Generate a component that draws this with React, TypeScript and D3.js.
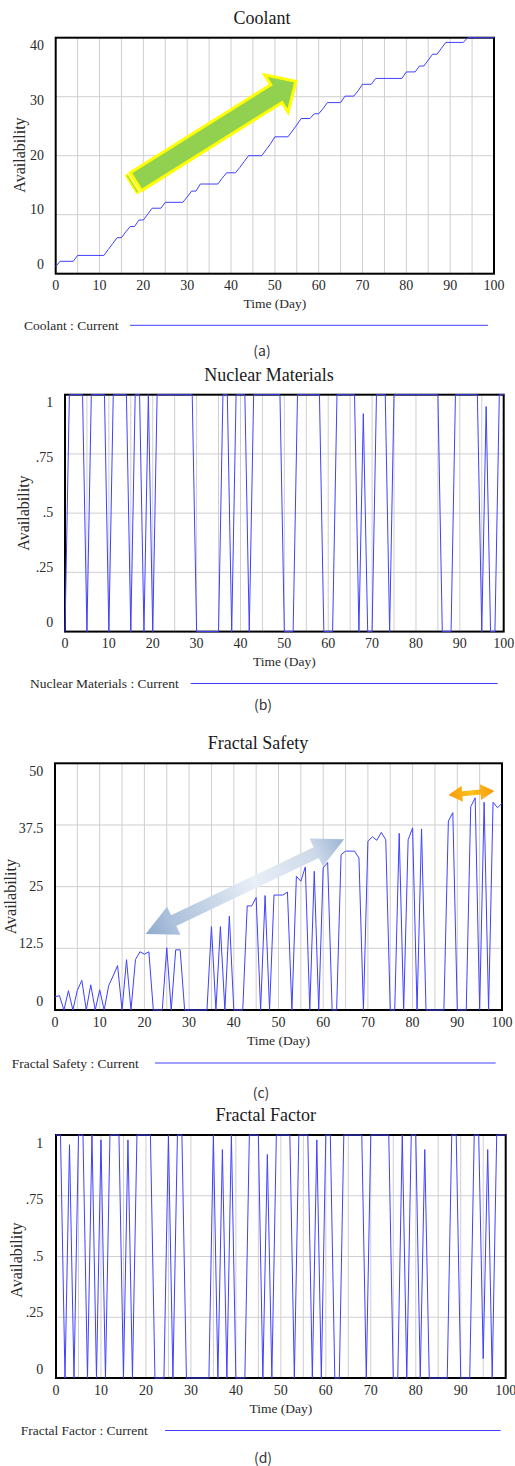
import React from 'react';
import * as d3 from 'd3';

// ---- data ----
const coolantDays = [0, 1, 4, 5, 11, 12, 13, 14, 15, 16, 17, 18, 19, 20, 21, 22, 24, 25, 29, 30, 31, 32, 33, 37, 38, 39, 41, 42, 43, 44, 47, 48, 49, 50, 53, 54, 55, 56, 58, 59, 60, 61, 62, 65, 66, 68, 69, 70, 72, 73, 79, 80, 82, 83, 84, 85, 86, 87, 88, 89, 93, 94, 100];
const coolantValues = [1.2, 2.1, 2.1, 3.1, 3.1, 4.1, 5.1, 6.1, 6.1, 7.1, 8, 8, 9.1, 9.1, 10.1, 11.1, 11.1, 12.1, 12.1, 13, 14, 14, 15.2, 15.2, 16.2, 17.1, 17.1, 18, 19, 20, 20, 21, 22, 23.2, 23.2, 24.2, 25.2, 26.3, 26.3, 27.1, 27.1, 28, 29, 29, 30.1, 30.1, 31, 32.1, 32.1, 33.1, 33.1, 34.2, 34.2, 35.2, 35.2, 36.2, 37.2, 37.2, 38.2, 39.2, 39.2, 40, 40];

const nuclearDays = [0, 1, 4, 5, 6, 9, 10, 11, 14, 15, 16, 17, 18, 19, 20, 21, 29, 30, 35, 36, 37, 38, 39, 41, 42, 43, 49, 50, 52, 53, 58, 59, 61, 62, 66, 67, 68, 69, 70, 71, 73, 74, 75, 85, 86, 88, 89, 94, 95, 96, 97, 98, 99, 100];
const nuclearValues = [0, 1, 1, 0, 1, 1, 0, 1, 1, 0, 1, 1, 0, 1, 0, 1, 1, 0, 0, 1, 1, 0, 1, 1, 0, 1, 1, 0, 0, 1, 1, 0, 0, 1, 1, 0, 0.92, 0, 0, 1, 1, 0, 1, 1, 0, 0, 1, 1, 0, 0.95, 0, 0, 1, 1];

const safetyDays = [0, 1, 2, 3, 4, 5, 6, 7, 8, 9, 10, 11, 12, 13, 14, 15, 16, 17, 18, 19, 20, 21, 22, 24, 25, 26, 27, 28, 29, 34, 35, 36, 37, 38, 39, 40, 42, 43, 44, 45, 46, 47, 48, 49, 50, 51, 52, 53, 54, 55, 56, 57, 58, 59, 60, 61, 62, 63, 64, 65, 66, 67, 68, 69, 70, 71, 72, 73, 74, 75, 76, 77, 78, 79, 80, 81, 82, 83, 87, 88, 89, 90, 92, 93, 94, 95, 96, 97, 98, 99, 100];
const safetyValues = [2.7, 2.9, 0, 3.9, 0, 4, 6, 0, 5.1, 0, 4.1, 0, 4.9, 6.9, 9, 0, 10.2, 0, 10.2, 11.8, 11.3, 11.8, 0, 0, 12.6, 0, 12.2, 12.2, 0, 0, 16.9, 0, 16.9, 0, 19, 0, 0, 21.1, 21.1, 22.8, 0, 23.2, 0, 23.3, 23.3, 23.3, 23.9, 0, 27.1, 26.1, 29, 0, 28.1, 0, 28.8, 29.9, 0, 0, 31.5, 32.2, 32.2, 32.2, 30.8, 0, 34.2, 35.1, 34.4, 36, 34.5, 0, 0, 35.8, 0, 34.5, 36.9, 0, 36.7, 0, 0, 38.3, 40, 0, 0, 41.2, 43, 0, 42.1, 0, 42.1, 41, 41.9];

const factorDays = [0, 1, 2, 3, 4, 5, 6, 7, 8, 9, 10, 11, 12, 14, 15, 16, 17, 18, 21, 22, 24, 25, 26, 27, 28, 29, 34, 35, 36, 37, 38, 39, 40, 42, 43, 45, 46, 47, 48, 49, 52, 53, 54, 56, 57, 58, 59, 60, 61, 62, 63, 64, 68, 69, 70, 74, 75, 76, 77, 78, 79, 80, 81, 82, 83, 87, 88, 89, 90, 92, 93, 94, 95, 96, 97, 98, 100];
const factorValues = [1, 1, 0, 0.96, 0, 1, 1, 0, 1, 0, 0.98, 0, 1, 1, 0, 0.98, 0, 1, 1, 0, 0, 1, 0, 1, 1, 0, 0, 1, 0, 0.94, 0, 1, 0, 0, 1, 1, 0, 0.92, 0, 1, 1, 0, 1, 1, 0, 0.98, 0, 1, 1, 0, 0, 1, 1, 0, 1, 1, 0, 0, 1, 0, 1, 1, 0, 0.94, 0, 0, 1, 1, 0, 0, 1, 1, 0.08, 0.94, 0, 1, 1];

const xTicks = [0, 10, 20, 30, 40, 50, 60, 70, 80, 90, 100];
const xGrid = d3.range(5, 100, 5);
const coolantTicks = [0, 10, 20, 30, 40];
const coolantTickLabels = ['0', '10', '20', '30', '40'];
const unitTicks = [0, 0.25, 0.5, 0.75, 1];
const unitTickLabels = ['0', '.25', '.5', '.75', '1'];
const safetyTicks = [0, 12.5, 25, 37.5, 50];
const safetyTickLabels = ['0', '12.5', '25', '37.5', '50'];

const serif = '"Liberation Serif", "Times New Roman", serif';
const sans = '"Noto Sans CJK KR", "Noto Sans", sans-serif';
const lineColor = '#4040ff';

type Arrow = {
  from: [number, number]; // data coords
  to: [number, number];
  shaft: number;
  headW: number;
  headL: number;
  both: boolean;
  stops: [number, string][];
  stroke?: string;
  strokeW?: number;
  stripe?: boolean;
};

type Panel = {
  id: string;
  title: string;
  titleX: number; titleY: number;
  left: number; right: number; top: number; bottom: number;
  yMax: number;
  yTicks: number[]; yTickLabels: string[];
  yLabelX: number;
  yTitleX: number; yTitleY: number;
  legend: string; legendX: number; legendLine: [number, number]; legendY: number;
  caption: string; captionX: number; captionY: number;
  days: number[]; values: number[];
  arrows: Arrow[];
};

const panels: Panel[] = [
  {
    id: 'a', title: 'Coolant', titleX: 262, titleY: 18,
    left: 55.7, right: 494, top: 37.7, bottom: 273.7, yMax: 40,
    yTicks: coolantTicks, yTickLabels: coolantTickLabels, yLabelX: 44,
    yTitleX: 19, yTitleY: 155,
    legend: 'Coolant : Current', legendX: 24, legendLine: [130, 488], legendY: 325.3,
    caption: '(a)', captionX: 262, captionY: 350,
    days: coolantDays, values: coolantValues,
    arrows: [{
      from: [18.3, 15.6], to: [54.8, 32.6], shaft: 21, headW: 44, headL: 23, both: false,
      stops: [[0, '#92d050'], [1, '#92d050']], stroke: '#ffff00', strokeW: 3, stripe: true,
    }],
  },
  {
    id: 'b', title: 'Nuclear Materials', titleX: 269, titleY: 375,
    left: 65, right: 503.7, top: 394.7, bottom: 631.6, yMax: 1,
    yTicks: unitTicks, yTickLabels: unitTickLabels, yLabelX: 53.3,
    yTitleX: 23.3, yTitleY: 513,
    legend: 'Nuclear Materials : Current', legendX: 30, legendLine: [190.7, 497.7], legendY: 683.5,
    caption: '(b)', captionX: 263, captionY: 704,
    days: nuclearDays, values: nuclearValues,
    arrows: [],
  },
  {
    id: 'c', title: 'Fractal Safety', titleX: 258, titleY: 743,
    left: 55, right: 502, top: 763.3, bottom: 1010, yMax: 50,
    yTicks: safetyTicks, yTickLabels: safetyTickLabels, yLabelX: 43.3,
    yTitleX: 10.5, yTitleY: 896.7,
    legend: 'Fractal Safety : Current', legendX: 11.7, legendLine: [155, 495.7], legendY: 1063,
    caption: '(c)', captionX: 261, captionY: 1092,
    days: safetyDays, values: safetyValues,
    arrows: [
      {
        from: [20.3, 15.4], to: [64.7, 34.6], shaft: 12, headW: 31, headL: 31, both: true,
        stops: [[0, '#8ea9cb'], [0.12, '#a9bfda'], [0.55, '#e9eff7'], [0.85, '#cdd9e9'], [1, '#9bb3d1']],
      },
      {
        from: [88, 43.6], to: [98.3, 44.4], shaft: 5, headW: 16, headL: 14, both: true,
        stops: [[0, '#f59a0c'], [0.5, '#ffc21c'], [1, '#f59a0c']],
      },
    ],
  },
  {
    id: 'd', title: 'Fractal Factor', titleX: 265.8, titleY: 1115,
    left: 56, right: 505.7, top: 1135, bottom: 1378, yMax: 1,
    yTicks: unitTicks, yTickLabels: unitTickLabels, yLabelX: 43.3,
    yTitleX: 16.7, yTitleY: 1260,
    legend: 'Fractal Factor : Current', legendX: 20.7, legendLine: [165, 500.7], legendY: 1430.5,
    caption: '(d)', captionX: 263, captionY: 1456.7,
    days: factorDays, values: factorValues,
    arrows: [],
  },
];

function arrowFrame(x0: number, y0: number, x1: number, y1: number) {
  const dx = x1 - x0, dy = y1 - y0;
  const len = Math.hypot(dx, dy);
  const ux = dx / len, uy = dy / len, nx = -uy, ny = ux;
  const pt = (t: number, w: number) => [x0 + ux * t + nx * w, y0 + uy * t + ny * w];
  return { len, pt };
}

const toPath = (pts: number[][]) => 'M' + pts.map(p => p.map(v => v.toFixed(1)).join(',')).join('L') + 'Z';

function arrowPath(x0: number, y0: number, x1: number, y1: number, a: Arrow) {
  const { len, pt } = arrowFrame(x0, y0, x1, y1);
  const s = a.shaft / 2, h = a.headW / 2;
  const pts: number[][] = [];
  if (a.both) pts.push(pt(0, 0), pt(a.headL, -h), pt(a.headL, -s));
  else pts.push(pt(0, -s));
  pts.push(pt(len - a.headL, -s), pt(len - a.headL, -h), pt(len, 0), pt(len - a.headL, h), pt(len - a.headL, s));
  if (a.both) pts.push(pt(a.headL, s), pt(a.headL, h));
  else pts.push(pt(0, s));
  return toPath(pts);
}

function stripePath(x0: number, y0: number, x1: number, y1: number, a: Arrow, t0: number, t1: number) {
  const { pt } = arrowFrame(x0, y0, x1, y1);
  const s = a.shaft / 2;
  return toPath([pt(t0, -s), pt(t1, -s), pt(t1, s), pt(t0, s)]);
}

const ChartPanel = ({ p }: { p: Panel }) => {
  const x = d3.scaleLinear().domain([0, 100]).range([p.left, p.right]);
  const y = d3.scaleLinear().domain([0, p.yMax]).range([p.bottom, p.top]);
  // Vensim places the tick labels slightly inside the frame
  const yLab = d3.scaleLinear().domain([0, p.yMax]).range([p.bottom - 9, p.top + 8]);
  const pts: [number, number][] = p.days.map((d, i) => [d, p.values[i]]);
  const line = d3.line<[number, number]>().x(d => x(d[0])).y(d => y(d[1]));
  const cx = (p.left + p.right) / 2;

  return (
    <g>
      <text x={p.titleX} y={p.titleY} textAnchor="middle" dominantBaseline="central"
        fontFamily={serif} fontSize={18} fill="#1a1a1a">{p.title}</text>

      <rect x={p.left} y={p.top} width={p.right - p.left} height={p.bottom - p.top} fill="#fff" />
      {xGrid.map(d => (
        <line key={'vx' + d} x1={x(d)} x2={x(d)} y1={p.top} y2={p.bottom} stroke="#cfcfcf" strokeWidth={1} />
      ))}
      {p.yTicks.slice(1, -1).map(v => (
        <line key={'hy' + v} x1={p.left} x2={p.right} y1={y(v)} y2={y(v)} stroke="#cfcfcf" strokeWidth={1} />
      ))}
      <rect x={p.left} y={p.top} width={p.right - p.left} height={p.bottom - p.top}
        fill="none" stroke="#000" strokeWidth={2} />
      <path d={line(pts) || ''} fill="none" stroke={lineColor} strokeWidth={1} />

      {p.yTicks.map((v, i) => (
        <text key={'yl' + v} x={p.yLabelX} y={yLab(v)} textAnchor="end" dominantBaseline="central"
          fontFamily={serif} fontSize={14} fill="#2a2a2a">{p.yTickLabels[i]}</text>
      ))}
      {xTicks.map(d => (
        <text key={'xl' + d} x={x(d)} y={p.bottom + 12} textAnchor="middle" dominantBaseline="central"
          fontFamily={serif} fontSize={14} fill="#2a2a2a">{d}</text>
      ))}
      <text x={cx} y={p.bottom + 30} textAnchor="middle" dominantBaseline="central"
        fontFamily={serif} fontSize={13.5} fill="#2a2a2a">Time (Day)</text>
      <text transform={`translate(${p.yTitleX},${p.yTitleY}) rotate(-90)`} textAnchor="middle"
        dominantBaseline="central" fontFamily={serif} fontSize={16} fill="#2a2a2a">Availability</text>

      <text x={p.legendX} y={p.legendY} dominantBaseline="central" fontFamily={serif} fontSize={13.5}
        fill="#2a2a2a">{p.legend}</text>
      <line x1={p.legendLine[0]} x2={p.legendLine[1]} y1={p.legendY} y2={p.legendY} stroke={lineColor} strokeWidth={1} />
      <text x={p.captionX} y={p.captionY} textAnchor="middle" dominantBaseline="central"
        fontFamily={sans} fontSize={14} fill="#333">{p.caption}</text>

      {p.arrows.map((a, i) => {
        const x0 = x(a.from[0]), y0 = y(a.from[1]), x1 = x(a.to[0]), y1 = y(a.to[1]);
        const gid = `grad-${p.id}-${i}`;
        return (
          <g key={gid}>
            <defs>
              <linearGradient id={gid} gradientUnits="userSpaceOnUse" x1={x0} y1={y0} x2={x1} y2={y1}>
                {a.stops.map(([o, c]) => <stop key={o} offset={o} stopColor={c} />)}
              </linearGradient>
            </defs>
            {a.stripe && (
              <path d={stripePath(x0, y0, x1, y1, a, -5.5, -3)} fill={`url(#${gid})`}
                stroke={a.stroke} strokeWidth={1.5} />
            )}
            <path d={arrowPath(x0, y0, x1, y1, a)} fill={`url(#${gid})`}
              stroke={a.stroke || 'none'} strokeWidth={a.stroke ? a.strokeW || 2 : 0} strokeLinejoin="miter" />
          </g>
        );
      })}
    </g>
  );
};

export default function App() {
  return (
    <svg width={515} height={1466} viewBox="0 0 515 1466"
      style={{ position: 'absolute', left: 0, top: 0, background: '#fff' }}>
      <rect width={515} height={1466} fill="#fff" />
      {panels.map(p => <ChartPanel key={p.id} p={p} />)}
    </svg>
  );
}
